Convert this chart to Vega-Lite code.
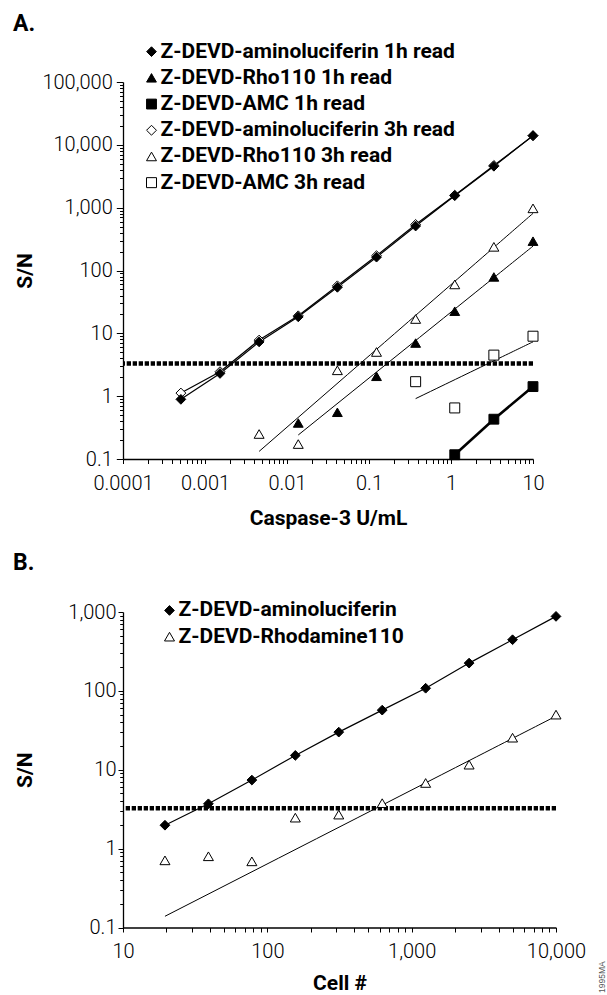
{
  "$schema": "https://vega.github.io/schema/vega-lite/v6.json",
  "padding": {"top": 13, "left": 13, "right": 0, "bottom": 0},
  "background": "white",
  "spacing": 23,
  "title": {"text": "1995MA", "orient": "right", "anchor": "end", "angle": 270, "align": "left", "baseline": "middle", "fontSize": 8.5, "font": "Liberation Sans", "fontWeight": "normal", "color": "#555555", "offset": 8},
  "resolve": {
    "scale": {"shape": "independent", "fill": "independent", "size": "independent", "stroke": "independent"},
    "legend": {"shape": "independent", "fill": "independent", "size": "independent", "stroke": "independent"}
  },
  "config": {
    "view": {"stroke": null},
    "axis": {"grid": false, "domainColor": "black", "domainWidth": 1.3, "tickColor": "black", "tickWidth": 1, "labelFont": "Roboto", "labelFontWeight": 300, "labelFontSize": 20, "labelColor": "black", "titleFont": "Roboto", "titleFontSize": 21, "titleFontWeight": "bold", "titleColor": "black", "labelOverlap": false, "labelFlush": false},
    "legend": {"orient": "none", "title": null, "padding": 0, "labelFont": "Roboto", "labelFontSize": 21, "labelFontWeight": "bold", "labelColor": "black", "labelOffset": -1.5, "rowPadding": 4.2, "labelLimit": 500, "symbolStrokeColor": "black", "symbolStrokeWidth": 1},
    "title": {"font": "Roboto", "fontSize": 23, "fontWeight": "bold", "color": "black"}
  },
  "datasets": {
    "A": [
      {"x": 0.000508, "y": 1.12, "series": "Z-DEVD-aminoluciferin 3h read"},
      {"x": 0.001524, "y": 2.45, "series": "Z-DEVD-aminoluciferin 3h read"},
      {"x": 0.004572, "y": 7.8, "series": "Z-DEVD-aminoluciferin 3h read"},
      {"x": 0.01372, "y": 19, "series": "Z-DEVD-aminoluciferin 3h read"},
      {"x": 0.04115, "y": 57, "series": "Z-DEVD-aminoluciferin 3h read"},
      {"x": 0.1235, "y": 172, "series": "Z-DEVD-aminoluciferin 3h read"},
      {"x": 0.3704, "y": 540, "series": "Z-DEVD-aminoluciferin 3h read"},
      {"x": 1.111, "y": 1580, "series": "Z-DEVD-aminoluciferin 3h read"},
      {"x": 3.333, "y": 4700, "series": "Z-DEVD-aminoluciferin 3h read"},
      {"x": 10, "y": 14000, "series": "Z-DEVD-aminoluciferin 3h read"},
      {"x": 0.004572, "y": 0.25, "series": "Z-DEVD-Rho110 3h read"},
      {"x": 0.01372, "y": 0.173, "series": "Z-DEVD-Rho110 3h read"},
      {"x": 0.04115, "y": 2.58, "series": "Z-DEVD-Rho110 3h read"},
      {"x": 0.1235, "y": 5.05, "series": "Z-DEVD-Rho110 3h read"},
      {"x": 0.3704, "y": 16.9, "series": "Z-DEVD-Rho110 3h read"},
      {"x": 1.111, "y": 60, "series": "Z-DEVD-Rho110 3h read"},
      {"x": 3.333, "y": 238, "series": "Z-DEVD-Rho110 3h read"},
      {"x": 10, "y": 975, "series": "Z-DEVD-Rho110 3h read"},
      {"x": 0.3704, "y": 1.7, "series": "Z-DEVD-AMC 3h read"},
      {"x": 1.111, "y": 0.65, "series": "Z-DEVD-AMC 3h read"},
      {"x": 3.333, "y": 4.5, "series": "Z-DEVD-AMC 3h read"},
      {"x": 10, "y": 9.0, "series": "Z-DEVD-AMC 3h read"},
      {"x": 0.000508, "y": 0.89, "series": "Z-DEVD-aminoluciferin 1h read"},
      {"x": 0.001524, "y": 2.3, "series": "Z-DEVD-aminoluciferin 1h read"},
      {"x": 0.004572, "y": 7.3, "series": "Z-DEVD-aminoluciferin 1h read"},
      {"x": 0.01372, "y": 18.3, "series": "Z-DEVD-aminoluciferin 1h read"},
      {"x": 0.04115, "y": 54, "series": "Z-DEVD-aminoluciferin 1h read"},
      {"x": 0.1235, "y": 163, "series": "Z-DEVD-aminoluciferin 1h read"},
      {"x": 0.3704, "y": 510, "series": "Z-DEVD-aminoluciferin 1h read"},
      {"x": 1.111, "y": 1550, "series": "Z-DEVD-aminoluciferin 1h read"},
      {"x": 3.333, "y": 4560, "series": "Z-DEVD-aminoluciferin 1h read"},
      {"x": 10, "y": 14000, "series": "Z-DEVD-aminoluciferin 1h read"},
      {"x": 0.01372, "y": 0.374, "series": "Z-DEVD-Rho110 1h read"},
      {"x": 0.04115, "y": 0.554, "series": "Z-DEVD-Rho110 1h read"},
      {"x": 0.1235, "y": 2.07, "series": "Z-DEVD-Rho110 1h read"},
      {"x": 0.3704, "y": 7.0, "series": "Z-DEVD-Rho110 1h read"},
      {"x": 1.111, "y": 22.5, "series": "Z-DEVD-Rho110 1h read"},
      {"x": 3.333, "y": 79, "series": "Z-DEVD-Rho110 1h read"},
      {"x": 10, "y": 293, "series": "Z-DEVD-Rho110 1h read"},
      {"x": 1.111, "y": 0.117, "series": "Z-DEVD-AMC 1h read"},
      {"x": 3.333, "y": 0.43, "series": "Z-DEVD-AMC 1h read"},
      {"x": 10, "y": 1.42, "series": "Z-DEVD-AMC 1h read"}
    ],
    "B": [
      {"x": 19.53, "y": 0.71, "series": "Z-DEVD-Rhodamine110"},
      {"x": 39.06, "y": 0.8, "series": "Z-DEVD-Rhodamine110"},
      {"x": 78.13, "y": 0.69, "series": "Z-DEVD-Rhodamine110"},
      {"x": 156.3, "y": 2.47, "series": "Z-DEVD-Rhodamine110"},
      {"x": 312.5, "y": 2.7, "series": "Z-DEVD-Rhodamine110"},
      {"x": 625, "y": 3.77, "series": "Z-DEVD-Rhodamine110"},
      {"x": 1250, "y": 6.8, "series": "Z-DEVD-Rhodamine110"},
      {"x": 2500, "y": 11.6, "series": "Z-DEVD-Rhodamine110"},
      {"x": 5000, "y": 25.5, "series": "Z-DEVD-Rhodamine110"},
      {"x": 10000, "y": 50, "series": "Z-DEVD-Rhodamine110"},
      {"x": 19.53, "y": 1.98, "series": "Z-DEVD-aminoluciferin"},
      {"x": 39.06, "y": 3.7, "series": "Z-DEVD-aminoluciferin"},
      {"x": 78.13, "y": 7.4, "series": "Z-DEVD-aminoluciferin"},
      {"x": 156.3, "y": 15.2, "series": "Z-DEVD-aminoluciferin"},
      {"x": 312.5, "y": 30, "series": "Z-DEVD-aminoluciferin"},
      {"x": 625, "y": 57, "series": "Z-DEVD-aminoluciferin"},
      {"x": 1250, "y": 108, "series": "Z-DEVD-aminoluciferin"},
      {"x": 2500, "y": 225, "series": "Z-DEVD-aminoluciferin"},
      {"x": 5000, "y": 445, "series": "Z-DEVD-aminoluciferin"},
      {"x": 10000, "y": 880, "series": "Z-DEVD-aminoluciferin"}
    ]
  },
  "vconcat": [
    {
      "width": 410,
      "height": 377,
      "title": {"text": "A.", "anchor": "start", "frame": "group", "dx": -110, "offset": -12.85, "baseline": "alphabetic"},
      "layer": [
        {
          "data": {"values": [{"threshold": 3.3}]},
          "mark": {"type": "rule", "color": "black", "strokeWidth": 4.5, "strokeDash": [4.3, 1.7]},
          "encoding": {
            "y": {"field": "threshold", "type": "quantitative", "scale": {"type": "log", "domain": [0.1, 100000], "nice": false}}
          }
        },
        {
          "data": {"name": "A"},
          "transform": [
            {"filter": "datum.series === 'Z-DEVD-Rho110 1h read' || datum.series === 'Z-DEVD-Rho110 3h read' || datum.series === 'Z-DEVD-AMC 3h read'"},
            {"regression": "y", "on": "x", "method": "pow", "groupby": ["series"]}
          ],
          "mark": {"type": "line", "color": "black", "strokeWidth": 1},
          "encoding": {
            "x": {"field": "x", "type": "quantitative", "scale": {"type": "log", "domain": [0.0001, 10], "nice": false}},
            "y": {"field": "y", "type": "quantitative", "scale": {"type": "log", "domain": [0.1, 100000], "nice": false}},
            "detail": {"field": "series", "type": "nominal"}
          }
        },
        {
          "data": {"name": "A"},
          "transform": [
            {"filter": "datum.series === 'Z-DEVD-aminoluciferin 1h read' || datum.series === 'Z-DEVD-aminoluciferin 3h read' || datum.series === 'Z-DEVD-AMC 1h read'"}
          ],
          "mark": {"type": "line", "color": "black"},
          "encoding": {
            "x": {"field": "x", "type": "quantitative", "scale": {"type": "log", "domain": [0.0001, 10], "nice": false}},
            "y": {"field": "y", "type": "quantitative", "scale": {"type": "log", "domain": [0.1, 100000], "nice": false}},
            "detail": {"field": "series", "type": "nominal"},
            "strokeWidth": {"condition": {"test": "datum.series === 'Z-DEVD-AMC 1h read'", "value": 2.6}, "value": 1.2}
          }
        },
        {
          "data": {"name": "A"},
          "mark": {"type": "point", "filled": true, "strokeWidth": 1, "opacity": 1},
          "encoding": {
            "x": {"field": "x", "type": "quantitative", "scale": {"type": "log", "domain": [0.0001, 10], "nice": false},
              "axis": {
                "values": [0.0001, 0.0002, 0.0003, 0.0004, 0.0005, 0.0006, 0.0007, 0.0008, 0.0009, 0.001, 0.002, 0.003, 0.004, 0.005, 0.006, 0.007, 0.008, 0.009, 0.01, 0.02, 0.03, 0.04, 0.05, 0.06, 0.07, 0.08, 0.09, 0.1, 0.2, 0.3, 0.4, 0.5, 0.6, 0.7, 0.8, 0.9, 1, 2, 3, 4, 5, 6, 7, 8, 9, 10],
                "labelExpr": "indexof([0.0001, 0.001, 0.01, 0.1, 1, 10], datum.value) >= 0 ? format(datum.value, ',') : ''",
                "tickSize": 4.5, "labelPadding": 9.5, "title": "Caspase-3 U/mL", "titlePadding": 14.5
              }
            },
            "y": {"field": "y", "type": "quantitative", "scale": {"type": "log", "domain": [0.1, 100000], "nice": false},
              "axis": {
                "values": [0.1, 0.2, 0.3, 0.4, 0.5, 0.6, 0.7, 0.8, 0.9, 1, 2, 3, 4, 5, 6, 7, 8, 9, 10, 20, 30, 40, 50, 60, 70, 80, 90, 100, 200, 300, 400, 500, 600, 700, 800, 900, 1000, 2000, 3000, 4000, 5000, 6000, 7000, 8000, 9000, 10000, 20000, 30000, 40000, 50000, 60000, 70000, 80000, 90000, 100000],
                "labelExpr": "indexof([0.1, 1, 10, 100, 1000, 10000, 100000], datum.value) >= 0 ? format(datum.value, ',') : ''",
                "tickSize": {"condition": {"test": "indexof([0.1, 1, 10, 100, 1000, 10000, 100000], datum.value) >= 0", "value": 6.7}, "value": 3.5},
                "labelPadding": 4, "title": "S/N", "titlePadding": 6.75
              }
            },
            "shape": {"field": "series", "type": "nominal",
              "scale": {"domain": ["Z-DEVD-aminoluciferin 1h read", "Z-DEVD-Rho110 1h read", "Z-DEVD-AMC 1h read", "Z-DEVD-aminoluciferin 3h read", "Z-DEVD-Rho110 3h read", "Z-DEVD-AMC 3h read"], "range": ["diamond", "triangle-up", "square", "diamond", "triangle-up", "square"]},
              "legend": {"orient": "none", "legendX": 18, "legendY": -40.85}
            },
            "fill": {"field": "series", "type": "nominal",
              "scale": {"domain": ["Z-DEVD-aminoluciferin 1h read", "Z-DEVD-Rho110 1h read", "Z-DEVD-AMC 1h read", "Z-DEVD-aminoluciferin 3h read", "Z-DEVD-Rho110 3h read", "Z-DEVD-AMC 3h read"], "range": ["black", "black", "black", "white", "white", "white"]}
            },
            "stroke": {"field": "series", "type": "nominal",
              "scale": {"domain": ["Z-DEVD-aminoluciferin 1h read", "Z-DEVD-Rho110 1h read", "Z-DEVD-AMC 1h read", "Z-DEVD-aminoluciferin 3h read", "Z-DEVD-Rho110 3h read", "Z-DEVD-AMC 3h read"], "range": ["black", "black", "black", "black", "black", "black"]}
            },
            "size": {"field": "series", "type": "nominal",
              "scale": {"domain": ["Z-DEVD-aminoluciferin 1h read", "Z-DEVD-Rho110 1h read", "Z-DEVD-AMC 1h read", "Z-DEVD-aminoluciferin 3h read", "Z-DEVD-Rho110 3h read", "Z-DEVD-AMC 3h read"], "range": [95, 100, 64, 95, 100, 64]}
            }
          }
        }
      ]
    },
    {
      "width": 433,
      "height": 315.5,
      "title": {"text": "B.", "anchor": "start", "frame": "group", "dx": -110, "offset": 6.5, "baseline": "alphabetic"},
      "layer": [
        {
          "data": {"values": [{"threshold": 3.25}]},
          "mark": {"type": "rule", "color": "black", "strokeWidth": 4.5, "strokeDash": [4.3, 1.7]},
          "encoding": {
            "y": {"field": "threshold", "type": "quantitative", "scale": {"type": "log", "domain": [0.1, 1000], "nice": false}}
          }
        },
        {
          "data": {"name": "B"},
          "transform": [
            {"filter": "datum.series === 'Z-DEVD-Rhodamine110' && datum.x >= 600"},
            {"regression": "y", "on": "x", "method": "pow", "extent": [19.53, 10000]}
          ],
          "mark": {"type": "line", "color": "black", "strokeWidth": 1},
          "encoding": {
            "x": {"field": "x", "type": "quantitative", "scale": {"type": "log", "domain": [10, 10000], "nice": false}},
            "y": {"field": "y", "type": "quantitative", "scale": {"type": "log", "domain": [0.1, 1000], "nice": false}}
          }
        },
        {
          "data": {"name": "B"},
          "transform": [{"filter": "datum.series === 'Z-DEVD-aminoluciferin'"}],
          "mark": {"type": "line", "color": "black", "strokeWidth": 1.2},
          "encoding": {
            "x": {"field": "x", "type": "quantitative", "scale": {"type": "log", "domain": [10, 10000], "nice": false}},
            "y": {"field": "y", "type": "quantitative", "scale": {"type": "log", "domain": [0.1, 1000], "nice": false}}
          }
        },
        {
          "data": {"name": "B"},
          "mark": {"type": "point", "filled": true, "strokeWidth": 1, "opacity": 1},
          "encoding": {
            "x": {"field": "x", "type": "quantitative", "scale": {"type": "log", "domain": [10, 10000], "nice": false},
              "axis": {
                "values": [10, 20, 30, 40, 50, 60, 70, 80, 90, 100, 200, 300, 400, 500, 600, 700, 800, 900, 1000, 2000, 3000, 4000, 5000, 6000, 7000, 8000, 9000, 10000],
                "labelExpr": "indexof([10, 100, 1000, 10000], datum.value) >= 0 ? format(datum.value, ',') : ''",
                "tickSize": 4.5, "labelPadding": 9.5, "title": "Cell #", "titlePadding": 10.5
              }
            },
            "y": {"field": "y", "type": "quantitative", "scale": {"type": "log", "domain": [0.1, 1000], "nice": false},
              "axis": {
                "values": [0.1, 0.2, 0.3, 0.4, 0.5, 0.6, 0.7, 0.8, 0.9, 1, 2, 3, 4, 5, 6, 7, 8, 9, 10, 20, 30, 40, 50, 60, 70, 80, 90, 100, 200, 300, 400, 500, 600, 700, 800, 900, 1000],
                "labelExpr": "indexof([0.1, 1, 10, 100, 1000], datum.value) >= 0 ? format(datum.value, ',') : ''",
                "tickSize": {"condition": {"test": "indexof([0.1, 1, 10, 100, 1000], datum.value) >= 0", "value": 5}, "value": 3.3},
                "labelPadding": 2, "title": "S/N", "titlePadding": 32.75
              }
            },
            "shape": {"field": "series", "type": "nominal",
              "scale": {"domain": ["Z-DEVD-aminoluciferin", "Z-DEVD-Rhodamine110"], "range": ["diamond", "triangle-up"]},
              "legend": {"orient": "none", "legendX": 36, "legendY": -12.05}
            },
            "fill": {"field": "series", "type": "nominal",
              "scale": {"domain": ["Z-DEVD-aminoluciferin", "Z-DEVD-Rhodamine110"], "range": ["black", "white"]}
            },
            "stroke": {"field": "series", "type": "nominal",
              "scale": {"domain": ["Z-DEVD-aminoluciferin", "Z-DEVD-Rhodamine110"], "range": ["black", "black"]}
            },
            "size": {"field": "series", "type": "nominal",
              "scale": {"domain": ["Z-DEVD-aminoluciferin", "Z-DEVD-Rhodamine110"], "range": [95, 100]}
            }
          }
        }
      ]
    }
  ]
}
